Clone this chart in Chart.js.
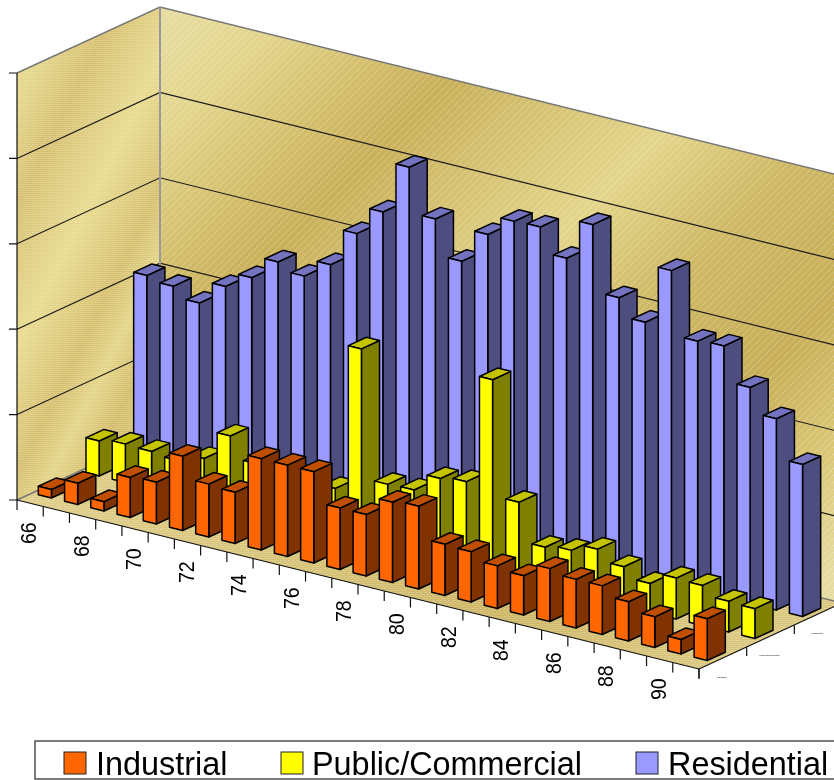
<!DOCTYPE html>
<html>
<head>
<meta charset="utf-8">
<title>Energy use by sector</title>
<script src="https://cdn.jsdelivr.net/npm/chart.js@4"></script>
<style>
  html, body { margin: 0; padding: 0; background: #fff; overflow: hidden; }
  canvas { display: block; }
</style>
</head>
<body>
<canvas id="chart" width="834" height="780"></canvas>
<script>
const years = ['66','67','68','69','70','71','72','73','74','75','76','77','78','79','80','81','82','83','84','85','86','87','88','89','90','91'];
const seriesNames = ['Industrial', 'Public/Commercial', 'Residential'];
const industrial = [10,25,11,47,49,87,62,60,107,107,107,72,72,94,97,60,59,50,46,62,57,57,46,36,17,49];
const publicCommercial = [41,45,44,41,51,85,60,53,47,54,225,74,75,96,100,227,91,46,50,59,46,34,48,47,36,35];
const residential = [209,204,192,219,237,263,254,275,319,352,412,359,317,356,379,380,351,398,320,299,367,292,294,253,224,178];

const FONT = '"Liberation Sans", Arial, sans-serif';

// shear of the plot rectangle into the 3D box
const SLOPE = 169 / 682;
const DEPTH_X = 143;
const DEPTH_Y = -66;
const BAR_DEPTH = 0.38 / 3;

function project(chart, px, py, depth) {
  const area = chart.chartArea;
  return [px + depth * DEPTH_X, py + (px - area.left) * SLOPE + depth * DEPTH_Y];
}

function depthOf(chart, rowIndex) {
  const z = chart.scales.z;
  return (z.getPixelForValue(rowIndex) - z.left) / z.width;
}

function poly(ctx, pts) {
  ctx.beginPath();
  pts.forEach((p, i) => i ? ctx.lineTo(p[0], p[1]) : ctx.moveTo(p[0], p[1]));
  ctx.closePath();
}

function polyline(ctx, pts) {
  ctx.beginPath();
  pts.forEach((p, i) => i ? ctx.lineTo(p[0], p[1]) : ctx.moveTo(p[0], p[1]));
  ctx.stroke();
}

/* ==========================================
   3D bars
   ========================================== */
class Bar3DController extends Chart.BarController {
  draw() {
    const meta = this._cachedMeta;
    const chart = this.chart;
    const ctx = chart.ctx;
    const ds = this.getDataset();
    const mid = depthOf(chart, this.index);
    const d0 = mid - BAR_DEPTH / 2;
    const d1 = mid + BAR_DEPTH / 2;

    ctx.save();
    ctx.lineWidth = 1.5;
    ctx.lineJoin = 'round';
    ctx.strokeStyle = '#000';
    meta.data.forEach(bar => {
      const l = bar.x - bar.width / 2;
      const r = bar.x + bar.width / 2;
      const top = bar.y;
      const base = bar.base;
      const P = (x, y, d) => project(chart, x, y, d);

      poly(ctx, [P(r, base, d0), P(r, base, d1), P(r, top, d1), P(r, top, d0)]);
      ctx.fillStyle = ds.sideColor;
      ctx.fill();
      ctx.stroke();

      poly(ctx, [P(l, top, d0), P(r, top, d0), P(r, top, d1), P(l, top, d1)]);
      ctx.fillStyle = ds.topColor;
      ctx.fill();
      ctx.stroke();

      poly(ctx, [P(l, base, d0), P(r, base, d0), P(r, top, d0), P(l, top, d0)]);
      ctx.fillStyle = ds.backgroundColor;
      ctx.fill();
      ctx.stroke();
    });
    ctx.restore();
  }
}
Bar3DController.id = 'bar3d';
Chart.register(Bar3DController);

/* ==========================================
   Walls, floor and axes
   ========================================== */
function weavePattern(ctx, color) {
  const c = document.createElement('canvas');
  c.width = 4;
  c.height = 4;
  const g = c.getContext('2d');
  g.fillStyle = color;
  g.fillRect(0, 0, 3, 1);
  g.fillRect(2, 2, 3, 1);
  g.fillRect(0, 2, 1, 1);
  return ctx.createPattern(c, 'repeat');
}

function stripes(ctx, pts) {
  ctx.save();
  poly(ctx, pts);
  ctx.clip();
  ctx.strokeStyle = 'rgba(255,255,255,0.3)';
  ctx.lineWidth = 0.9;
  for (let c = 0; c < 1800; c += 7) {
    ctx.beginPath();
    ctx.moveTo(c, 0);
    ctx.lineTo(c - 900, 900);
    ctx.stroke();
  }
  ctx.restore();
}

const scene = {
  id: 'scene',
  beforeDatasetsDraw(chart) {
    const ctx = chart.ctx;
    const { x, y } = chart.scales;
    const { left, right, top, bottom } = chart.chartArea;
    const P = (px, py, d) => project(chart, px, py, d);

    const leftWall = [P(left, top, 0), P(left, top, 1), P(left, bottom, 1), P(left, bottom, 0)];
    const backWall = [P(left, top, 1), P(right, top, 1), P(right, bottom, 1), P(left, bottom, 1)];
    const floor = [P(left, bottom, 0), P(right, bottom, 0), P(right, bottom, 1), P(left, bottom, 1)];

    ctx.save();

    // left wall
    let g = ctx.createLinearGradient(32, 16, 288, 144);
    [[0, '#e6d98f'], [0.08, '#e5d78a'], [0.25, '#d6c070'], [0.47, '#e8da8e'], [0.67, '#d6c06e'], [0.78, '#e3d486'], [0.89, '#d4bd6a'], [1, '#d9c574']]
      .forEach(s => g.addColorStop(s[0], s[1]));
    poly(ctx, leftWall);
    ctx.fillStyle = g;
    ctx.fill();
    ctx.fillStyle = weavePattern(ctx, 'rgba(255,255,255,0.22)');
    ctx.fill();

    // back wall
    g = ctx.createLinearGradient(95, 95, 700, 700);
    [[0, '#e6dc9f'], [0.09, '#e3d58c'], [0.19, '#d5c06e'], [0.28, '#c9b05a'], [0.38, '#d6c272'], [0.5, '#e3d58a'], [0.63, '#cfb966'], [0.78, '#c8ae58'], [0.895, '#dac674'], [1, '#e6dba0']]
      .forEach(s => g.addColorStop(s[0], s[1]));
    poly(ctx, backWall);
    ctx.fillStyle = g;
    ctx.fill();
    stripes(ctx, backWall);

    // floor
    g = ctx.createLinearGradient(17, 500, 699, 669);
    [[0, '#dfcd88'], [0.35, '#d8c478'], [0.7, '#cdb563'], [1, '#d9c67c']]
      .forEach(s => g.addColorStop(s[0], s[1]));
    poly(ctx, floor);
    ctx.fillStyle = g;
    ctx.fill();
    ctx.fillStyle = weavePattern(ctx, 'rgba(255,255,255,0.22)');
    ctx.fill();

    // grid lines on both walls
    ctx.lineWidth = 1.1;
    ctx.strokeStyle = '#1a1a1a';
    y.ticks.forEach(t => {
      if (t.value === y.min || t.value === y.max) return;
      const py = y.getPixelForValue(t.value);
      polyline(ctx, [P(left, py, 0), P(left, py, 1), P(right, py, 1)]);
    });

    // box edges
    ctx.strokeStyle = '#777';
    ctx.lineWidth = 1.4;
    polyline(ctx, [P(left, top, 0), P(left, top, 1), P(right, top, 1)]);
    polyline(ctx, [P(left, bottom, 0), P(left, bottom, 1), P(right, bottom, 1)]);
    ctx.strokeStyle = '#999';
    ctx.lineWidth = 2;
    polyline(ctx, [P(left, top, 1), P(left, bottom, 1)]);

    // value axis
    ctx.strokeStyle = '#111';
    ctx.lineWidth = 1.2;
    ctx.beginPath();
    ctx.moveTo(left, top);
    ctx.lineTo(left, bottom);
    y.ticks.forEach(t => {
      const py = y.getPixelForValue(t.value);
      ctx.moveTo(left - 8, py);
      ctx.lineTo(left, py);
    });
    ctx.stroke();

    // category axis
    const step = x.width / years.length;
    ctx.beginPath();
    ctx.moveTo(...P(left, bottom, 0));
    ctx.lineTo(...P(right, bottom, 0));
    for (let i = 0; i <= years.length; i++) {
      const p = P(left + i * step, bottom, 0);
      ctx.moveTo(p[0], p[1]);
      ctx.lineTo(p[0], p[1] + 10);
    }
    ctx.stroke();

    ctx.fillStyle = '#000';
    ctx.font = '22.5px ' + FONT;
    ctx.textAlign = 'right';
    ctx.textBaseline = 'middle';
    years.forEach((label, i) => {
      if (i % 2) return;
      const p = P(x.getPixelForValue(i), bottom, 0);
      ctx.save();
      ctx.translate(p[0], p[1] + 19);
      ctx.rotate(-Math.PI / 2);
      ctx.scale(0.87, 1);
      ctx.fillText(label, 0, 0);
      ctx.restore();
    });

    // depth axis
    ctx.beginPath();
    ctx.moveTo(...P(right, bottom, 0));
    ctx.lineTo(...P(right, bottom, 1));
    for (let i = 0; i <= seriesNames.length; i++) {
      const p = P(right, bottom, i / seriesNames.length);
      ctx.moveTo(p[0], p[1]);
      ctx.lineTo(p[0], p[1] + 9);
    }
    ctx.stroke();

    ctx.font = '2.4px ' + FONT;
    ctx.textAlign = 'center';
    seriesNames.forEach((name, i) => {
      const p = P(right, bottom, depthOf(chart, i));
      ctx.fillText(name, p[0] - 1, p[1] + 19);
    });

    ctx.restore();
  },
  afterDraw(chart) {
    const ctx = chart.ctx;
    const swatchX = [64, 281, 636];
    const textX = [96, 312, 668];

    ctx.save();
    ctx.strokeStyle = '#444';
    ctx.lineWidth = 1.4;
    ctx.strokeRect(35, 741, 830, 38);
    ctx.font = '32.4px ' + FONT;
    ctx.textBaseline = 'alphabetic';
    ctx.textAlign = 'left';
    chart.data.datasets.forEach((ds, i) => {
      ctx.fillStyle = ds.backgroundColor;
      ctx.fillRect(swatchX[i], 752, 22, 22);
      ctx.strokeStyle = '#222';
      ctx.lineWidth = 1;
      ctx.strokeRect(swatchX[i], 752, 22, 22);
      ctx.fillStyle = '#000';
      ctx.fillText(ds.label, textX[i], 775);
    });
    ctx.restore();
  }
};

/* ==========================================
   Chart
   ========================================== */
new Chart(document.getElementById('chart').getContext('2d'), {
  type: 'bar3d',
  plugins: [scene],
  data: {
    labels: years,
    datasets: [
      { label: seriesNames[0], data: industrial, backgroundColor: '#ff6600', sideColor: '#803300', topColor: '#c05000', clip: false },
      { label: seriesNames[1], data: publicCommercial, backgroundColor: '#ffff00', sideColor: '#808000', topColor: '#c4c400', clip: false },
      { label: seriesNames[2], data: residential, backgroundColor: '#9999ff', sideColor: '#4d4d80', topColor: '#7373c0', clip: false }
    ]
  },
  options: {
    responsive: false,
    animation: false,
    layout: { padding: { left: 17, right: 135, top: 73, bottom: 280 } },
    plugins: { legend: { display: false }, title: { display: false }, tooltip: { enabled: false } },
    grouped: false,
    categoryPercentage: 0.5,
    barPercentage: 1,
    scales: {
      x: { type: 'category', offset: true, display: false },
      y: { type: 'linear', min: 0, max: 500, ticks: { stepSize: 100 }, display: false },
      z: { type: 'category', axis: 'x', labels: seriesNames, offset: true, display: false }
    }
  }
});
</script>
</body>
</html>
